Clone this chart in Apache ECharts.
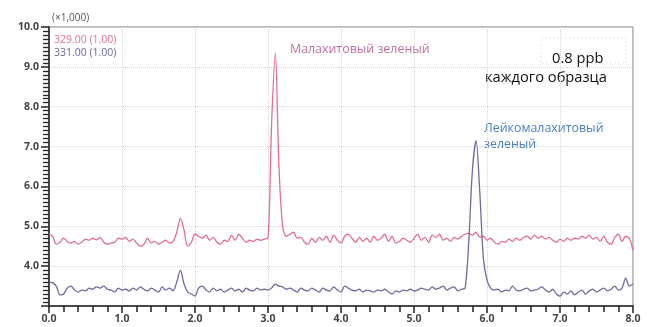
<!DOCTYPE html>
<html><head><meta charset="utf-8">
<script src="https://cdn.jsdelivr.net/npm/echarts@6/dist/echarts.min.js"></script>
<style>html,body{margin:0;padding:0;background:#fff}#c{width:647px;height:327px}</style>
</head><body><div id="c"></div>
<script>
var timeStart = 0.0, timeStep = 0.05;
var xTicks = ['0.0','1.0','2.0','3.0','4.0','5.0','6.0','7.0','8.0'];
var yTicks = ['4.0','5.0','6.0','7.0','8.0','9.0','10.0'];
var seriesNames = ['329.00 (1.00)', '331.00 (1.00)'];
var mz329 = [
4.8,4.75,4.55,4.6,4.7,4.62,4.58,4.62,4.55,4.6,
4.68,4.65,4.7,4.66,4.72,4.6,4.55,4.58,4.6,4.7,
4.68,4.72,4.62,4.68,4.58,4.5,4.55,4.7,4.58,4.62,
4.55,4.6,4.65,4.58,4.62,4.85,5.2,4.9,4.5,4.6,
4.8,4.75,4.7,4.78,4.65,4.72,4.6,4.55,4.65,4.62,
4.78,4.65,4.8,4.7,4.6,4.65,4.62,4.68,4.65,4.68,
4.7,7.6,9.35,6.5,5.0,4.75,4.8,4.85,4.7,4.72,
4.6,4.55,4.7,4.6,4.72,4.65,4.75,4.6,4.78,4.65,
4.58,4.75,4.8,4.7,4.6,4.72,4.62,4.7,4.6,4.75,
4.65,4.7,4.8,4.62,4.75,4.58,4.62,4.7,4.65,4.6,
4.7,4.8,4.65,4.72,4.6,4.78,4.72,4.8,4.65,4.7,
4.62,4.72,4.68,4.75,4.8,4.82,4.78,4.85,4.72,4.75,
4.65,4.7,4.6,4.55,4.62,4.6,4.68,4.62,4.7,4.65,
4.72,4.75,4.68,4.78,4.7,4.75,4.68,4.72,4.65,4.6,
4.68,4.62,4.7,4.65,4.7,4.68,4.75,4.7,4.78,4.68,
4.72,4.62,4.75,4.6,4.55,4.72,4.8,4.62,4.75,4.7,
4.4];
var mz331 = [
3.6,3.58,3.5,3.28,3.3,3.45,3.5,3.4,3.35,3.4,
3.38,3.45,3.42,3.48,3.45,3.5,3.42,3.4,3.35,3.45,
3.4,3.42,3.38,3.45,3.4,3.48,3.42,3.38,3.45,3.4,
3.35,3.48,3.4,3.45,3.38,3.6,3.9,3.55,3.35,3.3,
3.25,3.45,3.5,3.4,3.35,3.45,3.38,3.42,3.35,3.4,
3.45,3.38,3.42,3.35,3.45,3.4,3.38,3.45,3.4,3.42,
3.4,3.45,3.55,3.5,3.48,3.42,3.45,3.4,3.35,3.45,
3.4,3.38,3.45,3.4,3.35,3.45,3.4,3.38,3.48,3.4,
3.35,3.5,3.45,3.4,3.38,3.42,3.35,3.4,3.38,3.35,
3.4,3.38,3.42,3.35,3.3,3.38,3.35,3.4,3.38,3.42,
3.38,3.4,3.45,3.42,3.4,3.48,3.42,3.45,3.5,3.4,
3.45,3.48,3.38,3.42,3.45,4.6,6.4,7.15,5.9,4.2,
3.65,3.45,3.4,3.42,3.35,3.4,3.38,3.5,3.4,3.38,
3.42,3.45,3.38,3.4,3.42,3.48,3.4,3.35,3.42,3.3,
3.25,3.35,3.3,3.38,3.28,3.35,3.4,3.3,3.38,3.42,
3.35,3.4,3.45,3.38,3.42,3.5,3.4,3.45,3.7,3.5,
3.55];
function pairs(arr){ return arr.map(function(v,i){ return [timeStart + i*timeStep, v]; }); }
var chart = echarts.init(document.getElementById('c'), null, {renderer:'canvas'});
var lab = {color:'#444', fontFamily:'Open Sans, sans-serif', fontSize:10.5, fontWeight:'bold'};
function txt(x, y, s, color, size){
  return {type:'text', style:{x:x, y:y, text:s, fill:color, font:size+'px "Open Sans", sans-serif', align:'left', verticalAlign:'middle'}};
}
chart.setOption({
  animation:false,
  backgroundColor:'#fff',
  grid:{left:49, right:14, top:27, bottom:21, show:true, borderColor:'#7a7a7a', borderWidth:1},
  xAxis:{type:'value', min:0, max:8, interval:1,
    axisLine:{show:true, onZero:false, lineStyle:{color:'#222', width:1.5}},
    axisTick:{show:true, inside:false, length:7, lineStyle:{color:'#222', width:1.5}},
    minorTick:{show:true, splitNumber:5, length:6, lineStyle:{color:'#222', width:1.5}},
    splitLine:{show:true, lineStyle:{color:'#d4d4d4', type:'dotted', width:1}},
    axisLabel:Object.assign({margin:8, formatter:function(v){ var s=v.toFixed(1); return xTicks.indexOf(s)>=0?s:''; }}, lab)},
  yAxis:{type:'value', min:3, max:10, interval:1,
    axisLine:{show:true, onZero:false, lineStyle:{color:'#222', width:1.5}},
    axisTick:{show:true, inside:false, length:8, lineStyle:{color:'#222', width:1.5}},
    minorTick:{show:true, splitNumber:10, length:6, lineStyle:{color:'#222', width:1.3}},
    splitLine:{show:true, lineStyle:{color:'#d4d4d4', type:'dotted', width:1}},
    axisLabel:Object.assign({margin:10, formatter:function(v){ var s=v.toFixed(1); return yTicks.indexOf(s)>=0?s:''; }}, lab)},
  series:[
    {name:seriesNames[0], type:'line', data:pairs(mz329), showSymbol:false, smooth:0.3,
     lineStyle:{color:'#e0708f', width:1.3}, itemStyle:{color:'#e0708f'}},
    {name:seriesNames[1], type:'line', data:pairs(mz331), showSymbol:false, smooth:0.3,
     lineStyle:{color:'#6c6a9e', width:1.3}, itemStyle:{color:'#6c6a9e'}}
  ],
  graphic:[
    txt(52, 18, '(×1,000)', '#555', 10),
    txt(54, 40, seriesNames[0], '#e0708f', 10.5),
    txt(54, 53, seriesNames[1], '#6c6a9e', 10.5),
    txt(290, 49, 'Малахитовый зеленый', '#c070a0', 12.4),
    {type:'rect', shape:{x:541, y:38, width:85, height:25}, style:{fill:'none', stroke:'#e6e6e6', lineDash:[2,2]}},
    txt(552, 59, '0.8 ppb', '#111', 14.7),
    txt(485, 78, 'каждого образца', '#111', 14.7),
    txt(484, 128, 'Лейкомалахитовый', '#4a7fc0', 12.4),
    txt(484, 144, 'зеленый', '#4a7fc0', 12.4)
  ]
});
</script></body></html>
